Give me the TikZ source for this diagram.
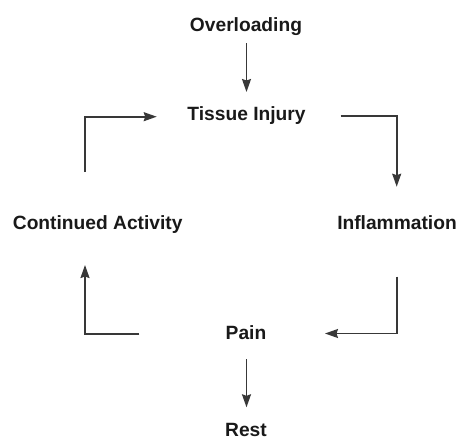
\documentclass[tikz,border=0pt]{standalone}
\usepackage{fontspec}
\setmainfont{Liberation Sans}
\usetikzlibrary{arrows.meta,calc}
\begin{document}
\begin{tikzpicture}[x=1pt,y=-1pt,
  lbl/.style={font=\fontsize{19.2}{23}\selectfont\bfseries, inner sep=0pt, text height=13.75pt, text depth=0pt, text=black!90},
  conn/.style={draw=black!78, line width=1.6pt, -{Stealth[length=13pt,width=9pt,inset=1.5pt]}}]
\useasboundingbox (0,0) rectangle (456,440);
\node[lbl] (over) at (246,24.5) {Overloading};
\node[lbl] (tissue) at (246.5,113.7) {Tissue Injury};
\node[lbl] (cont) at (97.7,222.2) {Continued Activity};
\node[lbl] (infl) at (397,222.2) {Inflammation};
\node[lbl] (pain) at (246,332.5) {Pain};
\node[lbl] (rest) at (246,429.3) {Rest};
\draw[conn] ($(over)+(0.5,18.5)$) -- ($(tissue)+(0,-21.7)$);
\draw[conn] ($(tissue)+(94.2,2.5)$) -| ($(infl)+(-0.3,-35.5)$);
\draw[conn] ($(infl)+(-0.3,54.5)$) |- ($(pain)+(79,1)$);
\draw[conn] ($(pain)+(-106.7,1.5)$) -| ($(cont)+(-12.7,42.8)$);
\draw[conn] ($(cont)+(-12.7,-50.2)$) |- ($(tissue)+(-89.8,3)$);
\draw[conn] ($(pain)+(0.5,26.8)$) -- ($(rest)+(0.5,-22)$);
\end{tikzpicture}
\end{document}
